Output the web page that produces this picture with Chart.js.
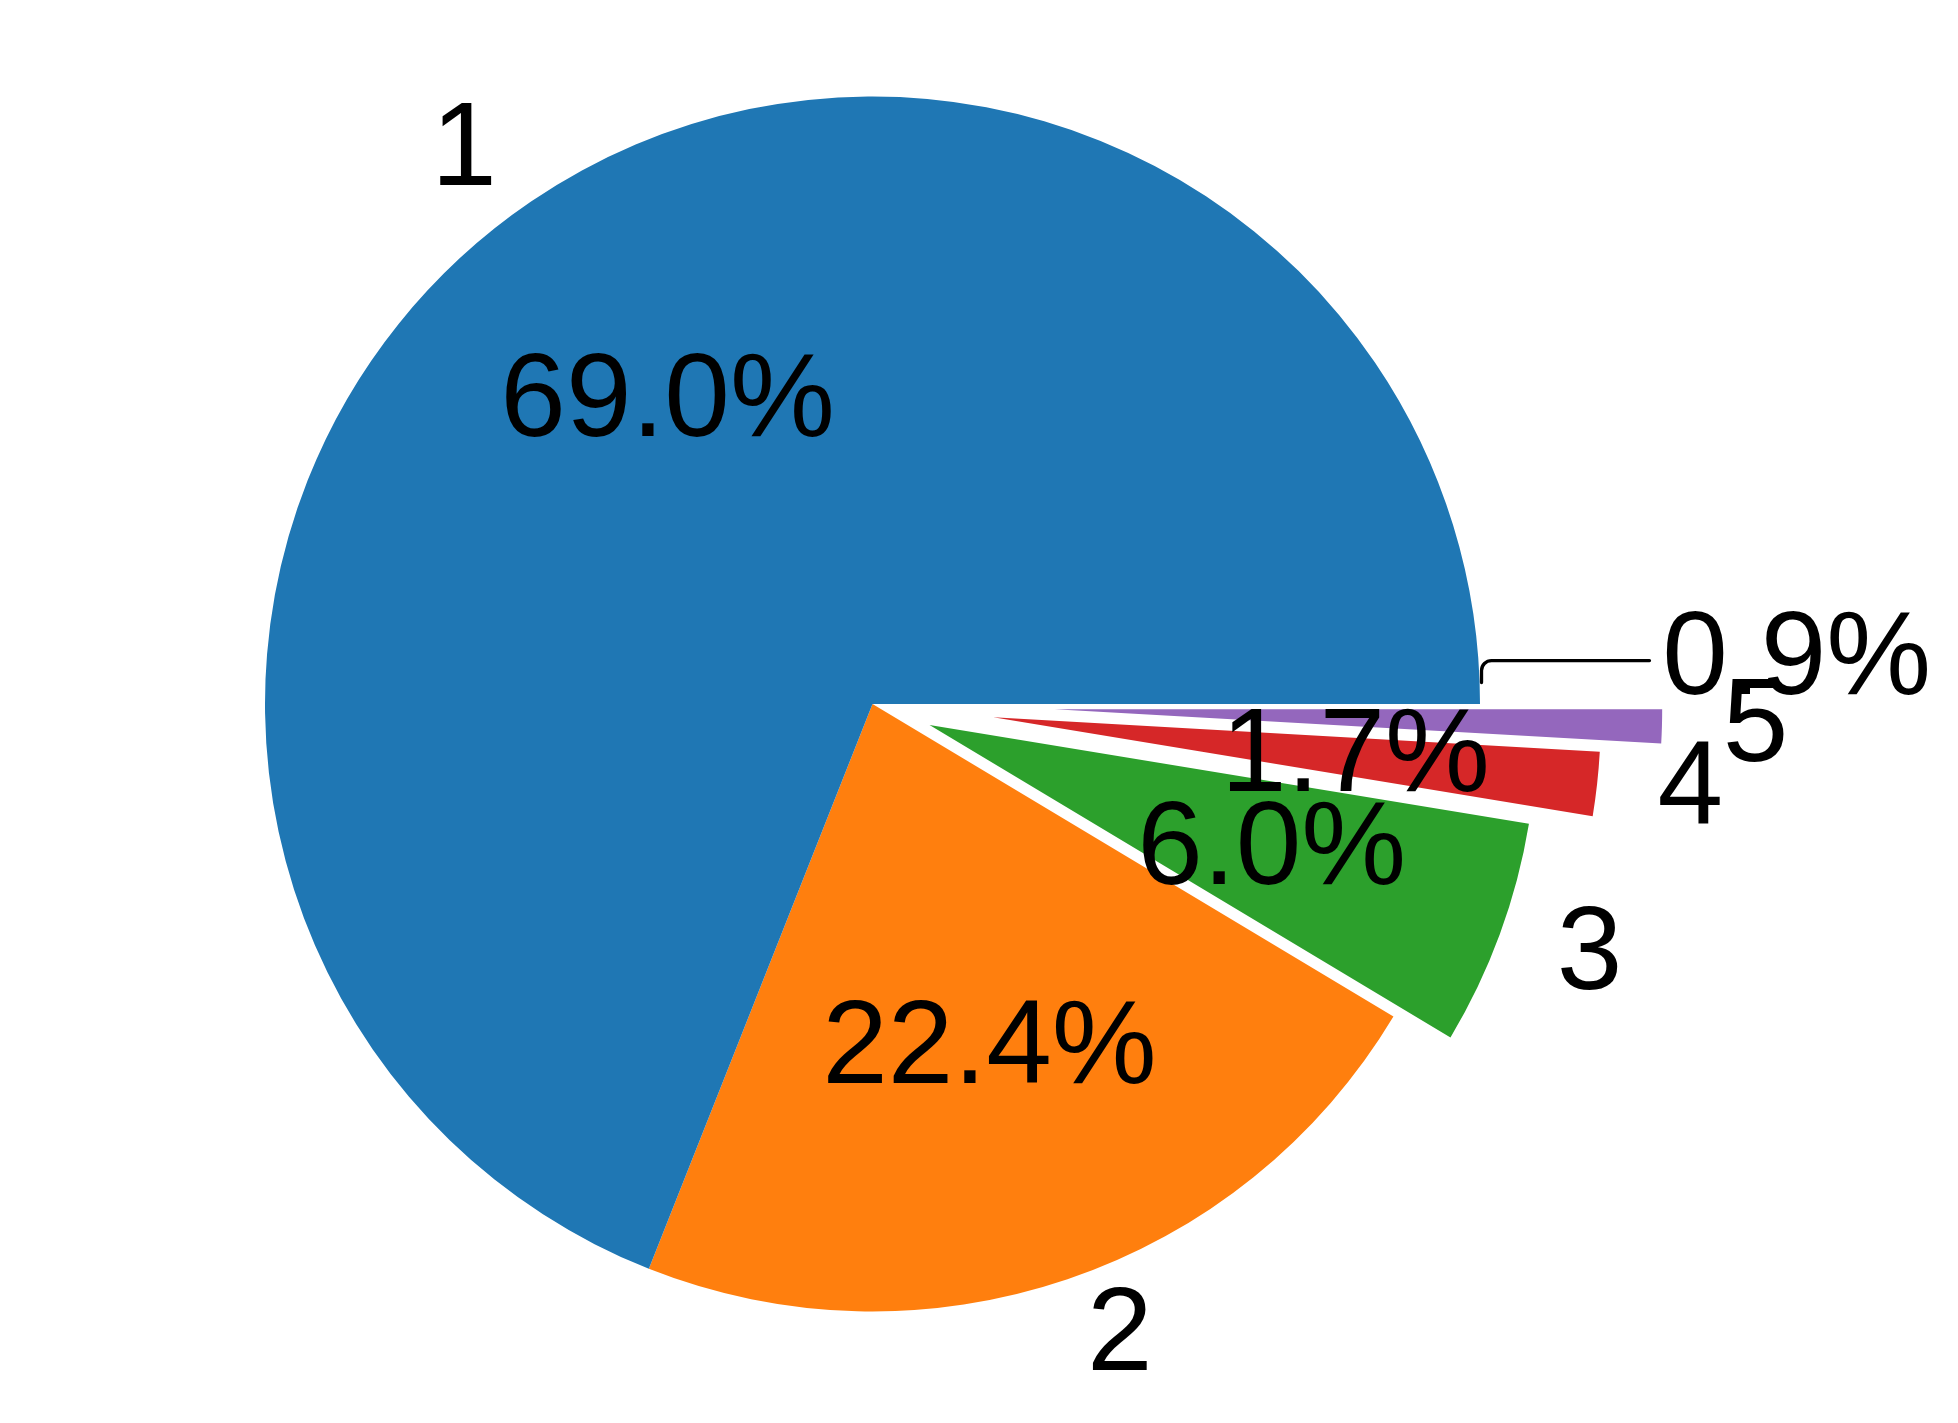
<!DOCTYPE html>
<html>
<head>
<meta charset="utf-8">
<script src="https://cdn.jsdelivr.net/npm/chart.js@4.4.0/dist/chart.umd.min.js"></script>
<style>
  html, body { margin: 0; padding: 0; background: #ffffff; }
  #wrap { width: 1958px; height: 1423px; position: relative; }
</style>
</head>
<body>
<div id="wrap"><canvas id="pie"></canvas></div>
<script>
// wedge data, in the order the reference lists them
var categories = ["1", "2", "3", "4", "5"];
var shares = [69.0, 22.4, 6.0, 1.7, 0.9];
var explode = [0, 0, 0.1, 0.2, 0.3];
var colours = ["#1f77b4", "#ff7f0e", "#2ca02c", "#d62728", "#9467bd"];
var pctTexts = shares.map(function (v) { return v.toFixed(1) + "%"; });

// the reference runs counter-clockwise from 3 o'clock, Chart.js runs clockwise,
// so the wedges are handed over in reverse order
var order = [4, 3, 2, 1, 0];

var FONT_SIZE = 118;
var FONT = FONT_SIZE + 'px "Liberation Sans", Arial, sans-serif';

// moves each wedge outwards along its middle angle (like matplotlib's explode)
var explodePlugin = {
  id: "explode",
  afterDatasetUpdate: function (chart, args) {
    var meta = chart.getDatasetMeta(args.index);
    meta.data.forEach(function (arc, i) {
      var k = order[i];
      var mid = (arc.startAngle + arc.endAngle) / 2;
      var shift = explode[k] * arc.outerRadius;
      arc.x = arc.x + Math.cos(mid) * shift;
      arc.y = arc.y + Math.sin(mid) * shift;
    });
  }
};

// category labels at 1.1 r, percentages at 0.6 r, the last one as a callout
var labelPlugin = {
  id: "pieLabels",
  afterDatasetsDraw: function (chart) {
    var ctx = chart.ctx;
    var meta = chart.getDatasetMeta(0);
    var area = chart.chartArea;
    var cx0 = (area.left + area.right) / 2;
    var cy0 = (area.top + area.bottom) / 2;
    ctx.save();
    ctx.font = FONT;
    ctx.fillStyle = "#000000";
    ctx.textBaseline = "alphabetic";
    var drop = 0.283 * FONT_SIZE; // matplotlib va=center -> baseline

    meta.data.forEach(function (arc, i) {
      var k = order[i];
      var mid = (arc.startAngle + arc.endAngle) / 2;
      var r = arc.outerRadius;
      var c = Math.cos(mid), s = Math.sin(mid);

      ctx.textAlign = c < 0 ? "right" : "left";
      ctx.fillText(categories[k], arc.x + 1.1 * r * c, arc.y + 1.1 * r * s + drop);

      if (k !== 4) {
        ctx.textAlign = "center";
        ctx.fillText(pctTexts[k], arc.x + 0.6 * r * c, arc.y + 0.6 * r * s + drop);
      }
    });

    // callout for the smallest wedge
    var r0 = meta.data[0].outerRadius;
    var x1 = cx0 + 1.0025 * r0, y1 = cy0 - 0.0354 * r0;
    var yTop = cy0 - 0.0715 * r0;
    var x2 = cx0 + 1.279 * r0;
    ctx.strokeStyle = "#000000";
    ctx.lineWidth = 3.3;
    ctx.lineCap = "round";
    ctx.beginPath();
    ctx.moveTo(x1, y1);
    ctx.arcTo(x1, yTop, x1 + 20, yTop, 10);
    ctx.lineTo(x2, yTop);
    ctx.stroke();

    ctx.textAlign = "left";
    ctx.fillText(pctTexts[4], cx0 + 1.3 * r0, yTop + drop);
    ctx.restore();
  }
};

var ctx = document.getElementById("pie").getContext("2d");
var pieChart = new Chart(ctx, {
  type: "pie",
  data: {
    labels: order.map(function (k) { return categories[k]; }),
    datasets: [{
      data: order.map(function (k) { return shares[k]; }),
      backgroundColor: order.map(function (k) { return colours[k]; }),
      borderWidth: 0
    }]
  },
  options: {
    responsive: true,
    maintainAspectRatio: false,
    animation: false,
    events: [],
    rotation: 90,
    radius: 607.5,
    layout: { padding: { left: 0, top: 0, right: 213, bottom: 15 } },
    plugins: {
      legend: { display: false },
      tooltip: { enabled: false }
    }
  },
  plugins: [explodePlugin, labelPlugin]
});
</script>
</body>
</html>
